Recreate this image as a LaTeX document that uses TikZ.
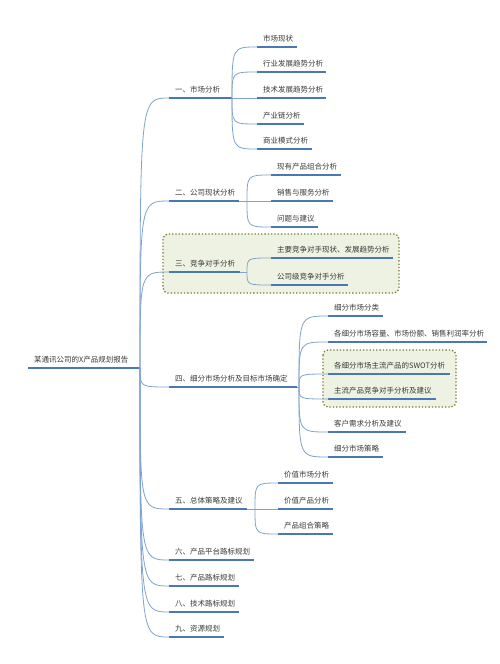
\documentclass[tikz,border=0pt]{standalone}
\usepackage{fontspec}
\setmainfont{Noto Sans CJK SC}
\definecolor{ulblue}{HTML}{4A78B5}
\definecolor{cnblue}{HTML}{7FA3CF}
\definecolor{txtgray}{HTML}{3A3A3A}
\definecolor{boxolive}{HTML}{7A7A2A}
\definecolor{boxfill}{HTML}{EEF2E2}
\tikzset{
 uline/.style={draw=ulblue, line width=1.8pt},
 conn/.style={draw=cnblue, line width=0.8pt},
 lbl/.style={font=\fontsize{7.5}{9}\selectfont, text=txtgray, inner sep=0pt, anchor=base west},
 hbox/.style={draw=boxolive, fill=boxfill, dotted, line width=1.3pt, rounded corners=5pt}
}
\newcommand\mmnode[5]{%
 \coordinate (#1-s) at (#2,#4);
 \coordinate (#1-e) at (#3,#4);
 \draw[uline] (#1-s) -- (#1-e);
 \node[lbl] (#1) at (#2+6,#4-6) {#5};
}
\newcommand\mmlink[2]{\draw[conn] (#1) .. controls (#1 |- #2) .. (#2);}
\begin{document}
\begin{tikzpicture}[x=1pt,y=-1pt]
\useasboundingbox[fill=white] (0,0) rectangle (499,664);
% highlight boxes
\draw[hbox] (163,234) rectangle (399,293);
\draw[hbox] (323,350) rectangle (456,407);
% root
\mmnode{root}{28}{140}{368}{某通讯公司的X产品规划报告}
% level 1
\mmnode{A}{169}{232}{98}{一、市场分析}
\mmnode{B}{169}{239}{201}{二、公司现状分析}
\mmnode{C}{169}{240}{272}{三、竞争对手分析}
\mmnode{D}{169}{297}{387}{四、细分市场分析及目标市场确定}
\mmnode{E}{169}{247}{509}{五、总体策略及建议}
\mmnode{F}{169}{254}{560}{六、产品平台路标规划}
\mmnode{G}{169}{239}{586}{七、产品路标规划}
\mmnode{H}{169}{239}{612}{八、技术路标规划}
\mmnode{I}{169}{224}{637}{九、资源规划}
\foreach \n in {A,B,C,D,E,F,G,H,I}{\mmlink{root-e}{\n-s}}
% A children
\mmnode{A1}{257}{297}{47}{市场现状}
\mmnode{A2}{257}{326}{72}{行业发展趋势分析}
\mmnode{A3}{257}{326}{98}{技术发展趋势分析}
\mmnode{A4}{257}{304}{124}{产业链分析}
\mmnode{A5}{257}{312}{149}{商业模式分析}
\foreach \n in {A1,A2,A4,A5}{\mmlink{A-e}{\n-s}}
\draw[conn] (A-e) -- (A3-s);
% B children
\coordinate (Bj) at (247,201);
\draw[conn] (B-e) -- (Bj);
\mmnode{B1}{271}{341}{175}{现有产品组合分析}
\mmnode{B2}{271}{333}{201}{销售与服务分析}
\mmnode{B3}{271}{318}{227}{问题与建议}
\foreach \n in {B1,B3}{\mmlink{Bj}{\n-s}}
\draw[conn] (Bj) -- (B2-s);
% C children
\coordinate (Cj) at (247,272);
\draw[conn] (C-e) -- (Cj);
\mmnode{C1}{271}{393}{258}{主要竞争对手现状、发展趋势分析}
\mmnode{C2}{271}{348}{285}{公司级竞争对手分析}
\foreach \n in {C1,C2}{\mmlink{Cj}{\n-s}}
% D children
\coordinate (Dj) at (299,387);
\draw[conn] (D-e) -- (Dj);
\mmnode{D1}{328}{383}{316}{细分市场分类}
\mmnode{D2}{328}{487}{342}{各细分市场容量、市场份额、销售利润率分析}
\mmnode{D3}{328}{450}{374}{各细分市场主流产品的SWOT分析}
\mmnode{D4}{328}{436}{399}{主流产品竞争对手分析及建议}
\mmnode{D5}{328}{406}{432}{客户需求分析及建议}
\mmnode{D6}{328}{383}{457}{细分市场策略}
\foreach \n in {D1,D2,D3,D4,D5,D6}{\mmlink{Dj}{\n-s}}
% E children
\coordinate (Ej) at (255,509);
\draw[conn] (E-e) -- (Ej);
\mmnode{E1}{278}{333}{483}{价值市场分析}
\mmnode{E2}{278}{333}{509}{价值产品分析}
\mmnode{E3}{278}{333}{534}{产品组合策略}
\foreach \n in {E1,E3}{\mmlink{Ej}{\n-s}}
\draw[conn] (Ej) -- (E2-s);
\end{tikzpicture}
\end{document}
